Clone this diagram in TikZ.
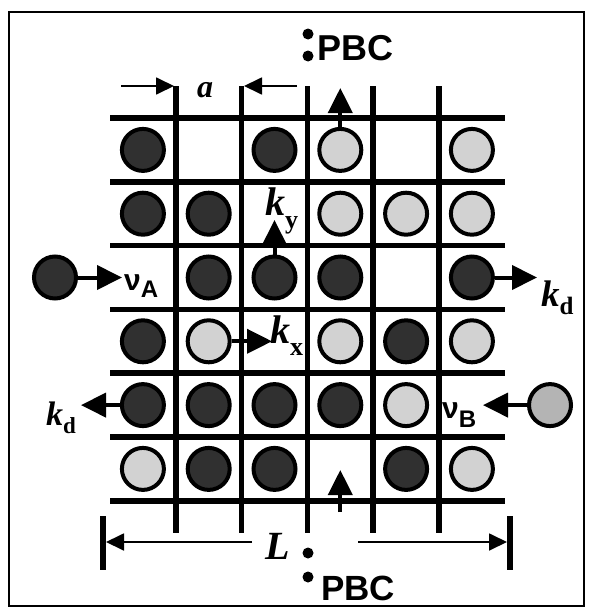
\documentclass[tikz,border=0pt]{standalone}
\usepackage{fontspec}
\setmainfont{Liberation Serif}
\newfontfamily\pbcfont{Liberation Sans}
\usetikzlibrary{arrows.meta}
\definecolor{darkfill}{HTML}{303030}
\definecolor{lightfill}{HTML}{D2D2D2}
\definecolor{midfill}{HTML}{B4B4B4}
\newcommand{\fsz}[1]{\fontsize{#1}{#1}\selectfont}
\begin{document}
\begin{tikzpicture}[x=1pt,y=-1pt,
  gridline/.style={line width=5.5pt},
  ball/.style={circle,draw=black,line width=4pt,minimum size=42pt,inner sep=0pt},
  bigarrow/.style={line width=4pt,-{Triangle[length=25pt,width=24pt]}},
  dimarrow/.style={line width=1.8pt,-{Triangle[length=18pt,width=17pt]}},
  lbl/.style={inner sep=0pt,anchor=base west},
  dotmark/.style={circle,fill=black,inner sep=0pt,minimum size=11pt}
]
\useasboundingbox (0,0) rectangle (593,613);
\draw[line width=2pt] (9,12) rectangle (584,606);
% grid
\foreach \k in {0,...,6}{
  \pgfmathsetmacro\yy{118+63.8*\k}
  \draw[gridline] (110,\yy) -- (505,\yy);
}
\foreach \k in {1,...,5}{
  \pgfmathsetmacro\xx{110+65.8*\k}
  \draw[gridline] (\xx,86) -- (\xx,533);
}
% particles
\foreach \r/\c/\t in {1/1/darkfill,1/3/darkfill,1/4/lightfill,1/6/lightfill,
  2/1/darkfill,2/2/darkfill,2/4/lightfill,2/5/lightfill,2/6/lightfill,
  3/2/darkfill,3/3/darkfill,3/4/darkfill,3/6/darkfill,
  4/1/darkfill,4/2/lightfill,4/4/lightfill,4/5/darkfill,4/6/lightfill,
  5/1/darkfill,5/2/darkfill,5/3/darkfill,5/4/darkfill,5/5/lightfill,
  6/1/lightfill,6/2/darkfill,6/3/darkfill,6/5/darkfill,6/6/lightfill}
  \node[ball,fill=\t] (b\r\c) at ({110+65.8*(\c-0.5)},{118+63.8*(\r-0.5)}) {};
\node[ball,fill=darkfill] (inA) at (55,277.5) {};
\node[ball,fill=midfill] (inB) at (550,405.1) {};
% arrows
\coordinate (tTop) at (340.3,88);
\draw[bigarrow] (b14.north) -- (tTop);
\coordinate (tKy) at (274.5,220);
\draw[bigarrow] (b33.north) -- (tKy);
\coordinate (tKx) at (272,341.3);
\draw[bigarrow] (b42.east) -- (tKx);
\coordinate (tNA) at (122,277.5);
\draw[bigarrow] (inA.east) -- (tNA);
\coordinate (tKdR) at (537,277.5);
\draw[bigarrow] (b36.east) -- (tKdR);
\coordinate (tKdL) at (81,405.1);
\draw[bigarrow] (b51.west) -- (tKdL);
\coordinate (tNB) at (483,405.1);
\draw[bigarrow] (inB.west) -- (tNB);
\coordinate (sBot) at (340.3,512);
\coordinate (tBot) at (340.3,470);
\draw[bigarrow] (sBot) -- (tBot);
% dimension a
\coordinate (aLs) at (121,86);
\coordinate (aLt) at (174,86);
\coordinate (aRs) at (297,86);
\coordinate (aRt) at (244,86);
\draw[dimarrow] (aLs) -- (aLt);
\draw[dimarrow] (aRs) -- (aRt);
\node[lbl] (la) at (197,97) {\fsz{32}\bfseries\itshape a};
% dimension L
\draw[line width=6pt] (103,516) -- (103,570);
\draw[line width=6pt] (510,516) -- (510,570);
\coordinate (Lls) at (252,542);
\coordinate (Llt) at (106,542);
\coordinate (Lrs) at (358,542);
\coordinate (Lrt) at (507,542);
\draw[dimarrow] (Lls) -- (Llt);
\draw[dimarrow] (Lrs) -- (Lrt);
\node[lbl] (lL) at (265,559) {\fsz{40}\bfseries\itshape L};
% PBC
\node[dotmark] (d1) at (308,34) {};
\node[dotmark] (d2) at (308,56) {};
\node[lbl] (pbcT) at (317,60) {\pbcfont\fsz{36}\bfseries PBC};
\node[dotmark] (d3) at (308,553) {};
\node[dotmark] (d4) at (308,577) {};
\node[lbl] (pbcB) at (321,600) {\pbcfont\fsz{35}\bfseries PBC};
% labels
\node[lbl] (kdR) at (541,306) {\fsz{37}\bfseries\itshape k\upshape\fsz{25}\raisebox{-8pt}{d}};
\node[lbl] (kx) at (270,343) {\fsz{40}\bfseries\itshape k\upshape\fsz{26}\raisebox{-12pt}{x}};
\node[lbl] (ky) at (265,215) {\fsz{40}\bfseries\itshape k\upshape\fsz{26}\raisebox{-13pt}{y}};
\node[lbl] (kdL) at (46,425) {\fsz{34}\bfseries\itshape k\upshape\fsz{23}\raisebox{-8pt}{d}};
\node[lbl] (nuA) at (124,290) {\pbcfont\bfseries\fsz{30}ν\fsz{24}\raisebox{-7pt}{A}};
\node[lbl] (nuB) at (442,418) {\pbcfont\bfseries\fsz{30}ν\fsz{24}\raisebox{-9pt}{B}};
\end{tikzpicture}
\end{document}
